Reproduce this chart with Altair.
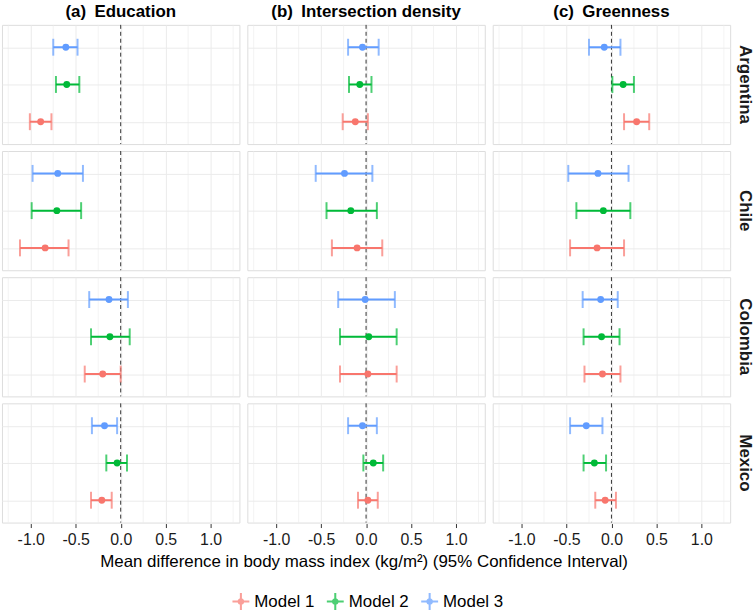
import altair as alt
import pandas as pd

exposures = ["Education", "Intersection density", "Greenness"]
panel_titles = ["(a)\u2002Education", "(b)\u2002Intersection density", "(c)\u2002Greenness"]
countries = ["Argentina", "Chile", "Colombia", "Mexico"]
models = ["Model 1", "Model 2", "Model 3"]
model_colors = ["#F8766D", "#00BA38", "#619CFF"]
major_ticks = [-1.0, -0.5, 0.0, 0.5, 1.0]
minor_grid = [-1.25, -0.75, -0.25, 0.25, 0.75, 1.25]
x_title = ["Mean difference in body mass index (kg/m\u00b2) (95% Confidence Interval)"]

# rows = countries (Argentina, Chile, Colombia, Mexico); columns = Model 1, Model 2, Model 3
education_est = [[-0.89, -0.60, -0.61], [-0.84, -0.71, -0.70], [-0.20, -0.12, -0.13], [-0.21, -0.04, -0.18]]
education_lo = [[-1.01, -0.72, -0.75], [-1.12, -0.99, -0.98], [-0.40, -0.33, -0.35], [-0.33, -0.16, -0.32]]
education_hi = [[-0.77, -0.46, -0.48], [-0.58, -0.44, -0.42], [0.00, 0.10, 0.08], [-0.10, 0.07, -0.04]]

density_est = [[-0.12, -0.07, -0.04], [-0.10, -0.17, -0.24], [0.02, 0.03, -0.01], [0.02, 0.08, -0.04]]
density_lo = [[-0.26, -0.19, -0.20], [-0.38, -0.44, -0.56], [-0.29, -0.29, -0.31], [-0.09, -0.03, -0.20]]
density_hi = [[0.02, 0.06, 0.14], [0.18, 0.12, 0.07], [0.34, 0.34, 0.32], [0.13, 0.19, 0.12]]

green_est = [[0.28, 0.13, -0.08], [-0.16, -0.09, -0.15], [-0.10, -0.11, -0.12], [-0.07, -0.19, -0.28]]
green_lo = [[0.14, 0.01, -0.25], [-0.46, -0.39, -0.48], [-0.30, -0.31, -0.32], [-0.18, -0.31, -0.46]]
green_hi = [[0.42, 0.25, 0.10], [0.14, 0.21, 0.19], [0.10, 0.09, 0.07], [0.05, -0.06, -0.10]]

tables = [
    (education_est, education_lo, education_hi),
    (density_est, density_lo, density_hi),
    (green_est, green_lo, green_hi),
]

rows = []
for p, (est_t, lo_t, hi_t) in zip(panel_titles, tables):
    for ci, c in enumerate(countries):
        for mi, m in enumerate(models):
            rows.append({"kind": "est", "panel": p, "country": c, "model": m,
                         "est": est_t[ci][mi], "lo": lo_t[ci][mi], "hi": hi_t[ci][mi]})
        for g in minor_grid:
            rows.append({"kind": "grid", "panel": p, "country": c, "gx": g})
        rows.append({"kind": "zero", "panel": p, "country": c, "gx": 0.0})
df = pd.DataFrame(rows)

FONT = "Liberation Sans"
PANEL_W, PANEL_H = 239, 120
COL_SP, ROW_SP = 6, 5
TOTAL_W = 3 * PANEL_W + 2 * COL_SP

xscale = alt.Scale(domain=[-1.32, 1.32], nice=False, zero=False)
xaxis = alt.Axis(values=major_ticks, grid=True, gridColor="#EBEBEB", gridWidth=1,
                 domain=False, ticks=True, tickColor="#333333", tickSize=4, title=None,
                 labelExpr="datum.value < 0 ? '-' + format(-datum.value, '.1f') : format(datum.value, '.1f')",
                 labelFontSize=16, labelColor="#1a1a1a", labelFont=FONT, labelPadding=4)
yenc = alt.Y("model:N", sort=models[::-1], scale=alt.Scale(type="point", padding=0.6, domain=models[::-1]),
             axis=alt.Axis(labels=False, ticks=False, domain=False, title=None, grid=True,
                           gridColor="#EBEBEB", gridWidth=1))
color = alt.Color("model:N", scale=alt.Scale(domain=models, range=model_colors),
                  legend=alt.Legend(title=None, orient="none", direction="horizontal",
                                    legendX=232, legendY=572,
                                    symbolType="M-1,-0.12H1V0.12H-1Z M-0.12,-1H0.12V1H-0.12Z M0.4,0A0.4,0.4,0,1,1,-0.4,0A0.4,0.4,0,1,1,0.4,0Z",
                                    symbolSize=289, symbolStrokeWidth=0,
                                    labelFontSize=17, labelFont=FONT, labelColor="#000000",
                                    columnPadding=12, labelOffset=5))

base = alt.Chart()

minor = base.mark_rule(color="#EBEBEB", strokeWidth=0.6).encode(
    x=alt.X("gx:Q", scale=xscale, axis=xaxis)
).transform_filter("datum.kind == 'grid'")

zero = base.mark_rule(color="#333333", strokeWidth=1, strokeDash=[4, 3]).encode(
    x=alt.X("gx:Q", scale=xscale, axis=xaxis)
).transform_filter("datum.kind == 'zero'")

est_base = base.transform_filter("datum.kind == 'est'")

bars = est_base.mark_rule(strokeWidth=2).encode(
    x=alt.X("lo:Q", scale=xscale, axis=xaxis), x2="hi:Q", y=yenc, color=color
)
cap_lo = est_base.mark_tick(thickness=2, size=17, orient="vertical").encode(
    x=alt.X("lo:Q", scale=xscale, axis=xaxis), y=yenc, color=color
)
cap_hi = est_base.mark_tick(thickness=2, size=17, orient="vertical").encode(
    x=alt.X("hi:Q", scale=xscale, axis=xaxis), y=yenc, color=color
)
points = est_base.mark_point(filled=True, size=48, opacity=1).encode(
    x=alt.X("est:Q", scale=xscale, axis=xaxis), y=yenc, color=color
)

layered = alt.layer(minor, zero, bars, cap_lo, cap_hi, points, data=df).properties(
    width=PANEL_W, height=PANEL_H)

facet_chart = layered.facet(
    row=alt.Row("country:N", sort=countries,
                header=alt.Header(title=None, labelOrient="right", labelAngle=90,
                                  labelFontSize=17, labelFontWeight="bold", labelFont=FONT,
                                  labelColor="#1a1a1a", labelPadding=5)),
    column=alt.Column("panel:N", sort=panel_titles,
                      header=alt.Header(title=None, labelFontSize=17, labelFontWeight="bold",
                                        labelFont=FONT, labelColor="#000000", labelPadding=3)),
    spacing={"row": ROW_SP, "column": COL_SP},
)

title_chart = alt.Chart(pd.DataFrame({"t": x_title})).mark_text(
    font=FONT, fontSize=17, color="#000000", baseline="middle", align="center"
).encode(
    text="t:N", x=alt.value(TOTAL_W / 2), y=alt.value(15)
).properties(width=TOTAL_W, height=26, view=alt.ViewBackground(strokeWidth=0, stroke="transparent"))

chart = alt.vconcat(facet_chart, title_chart, spacing=0).properties(
    padding={"left": 1, "top": 1, "right": 1, "bottom": 1}
).configure_view(
    stroke="#666666", strokeWidth=1
).configure(background="white")

chart.save("out.html", embed_options={"renderer": "svg", "actions": False})
